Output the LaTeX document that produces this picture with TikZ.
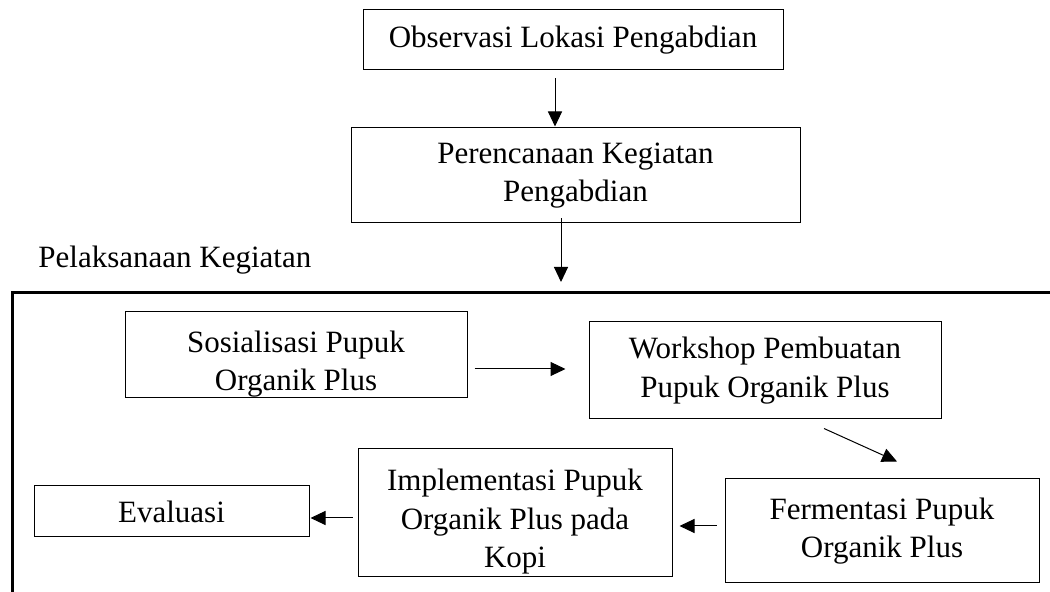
\documentclass[tikz,border=0pt]{standalone}
\usepackage{fontspec}
\setmainfont{Liberation Serif}
\usetikzlibrary{arrows.meta,positioning}

\begin{document}
\begin{tikzpicture}[x=0.5pt, y=-0.5pt, inner sep=0pt,
			box/.style={draw, line width=0.5pt, align=center,
				font=\fontsize{15.5}{19.25}\selectfont},
			txt/.style={align=center, font=\fontsize{15.5}{19.25}\selectfont},
			arr/.style={-{Triangle[length=7.5pt,width=7pt]}, line width=0.5pt},
			frame/.style={line width=1.5pt}]
			\useasboundingbox (0,0) rectangle (1050,592);
			% top part
			\node [box, minimum width=210pt, minimum height=30pt] (obs) at (573,40) {Observasi Lokasi Pengabdian};
			\node [box, minimum width=224.5pt, minimum height=47.5pt] (plan) at (575.5,175.5) {Perencanaan Kegiatan\\Pengabdian};
			\node [txt, anchor=base west] (pel) at (38,268) {Pelaksanaan Kegiatan};
			\coordinate (in) at (561,282);
			\draw [frame] (1052,293) -| (12,594);
			% inside the frame
			\node [box, minimum width=171pt, minimum height=43pt,
				path picture={\node [txt] at ([yshift=-4.5pt]path picture bounding box.center) {Sosialisasi Pupuk\\Organik Plus};}] (sos) at (296,355) {};
			\node [box, minimum width=176pt, minimum height=48.5pt] (work) at (765,370.5) {Workshop Pembuatan\\Pupuk Organik Plus};
			\node [box, minimum width=157pt, minimum height=52pt] (ferm) at (882,531) {Fermentasi Pupuk\\Organik Plus};
			\node [box, minimum width=157pt, minimum height=64pt,
				path picture={\node [txt] at ([yshift=-4.5pt]path picture bounding box.center) {Implementasi Pupuk\\Organik Plus pada\\Kopi};}] (impl) at (515,513) {};
			\node [box, minimum width=137.5pt, minimum height=25.5pt] (eval) at (171.5,511.5) {Evaluasi};
			% arrows
			\draw [arr] ([shift={(-18,8)}]obs.south) -- ([shift={(-20.5,-1)}]plan.north);
			\draw [arr] ([shift={(-14.5,-5)}]plan.south) -- (in);
			\draw [arr] ([shift={(7,14)}]sos.east) -- ([shift={(-23,-1.5)}]work.west);
			\draw [arr] ([shift={(59,9)}]work.south) -- ([shift={(15,-17)}]ferm.north);
			\draw [arr] ([shift={(-8,-5)}]ferm.west) -- ([shift={(7,13)}]impl.east);
			\draw [arr] ([shift={(-5,5)}]impl.west) -- ([shift={(1,6.5)}]eval.east);
		\end{tikzpicture}
\end{document}
